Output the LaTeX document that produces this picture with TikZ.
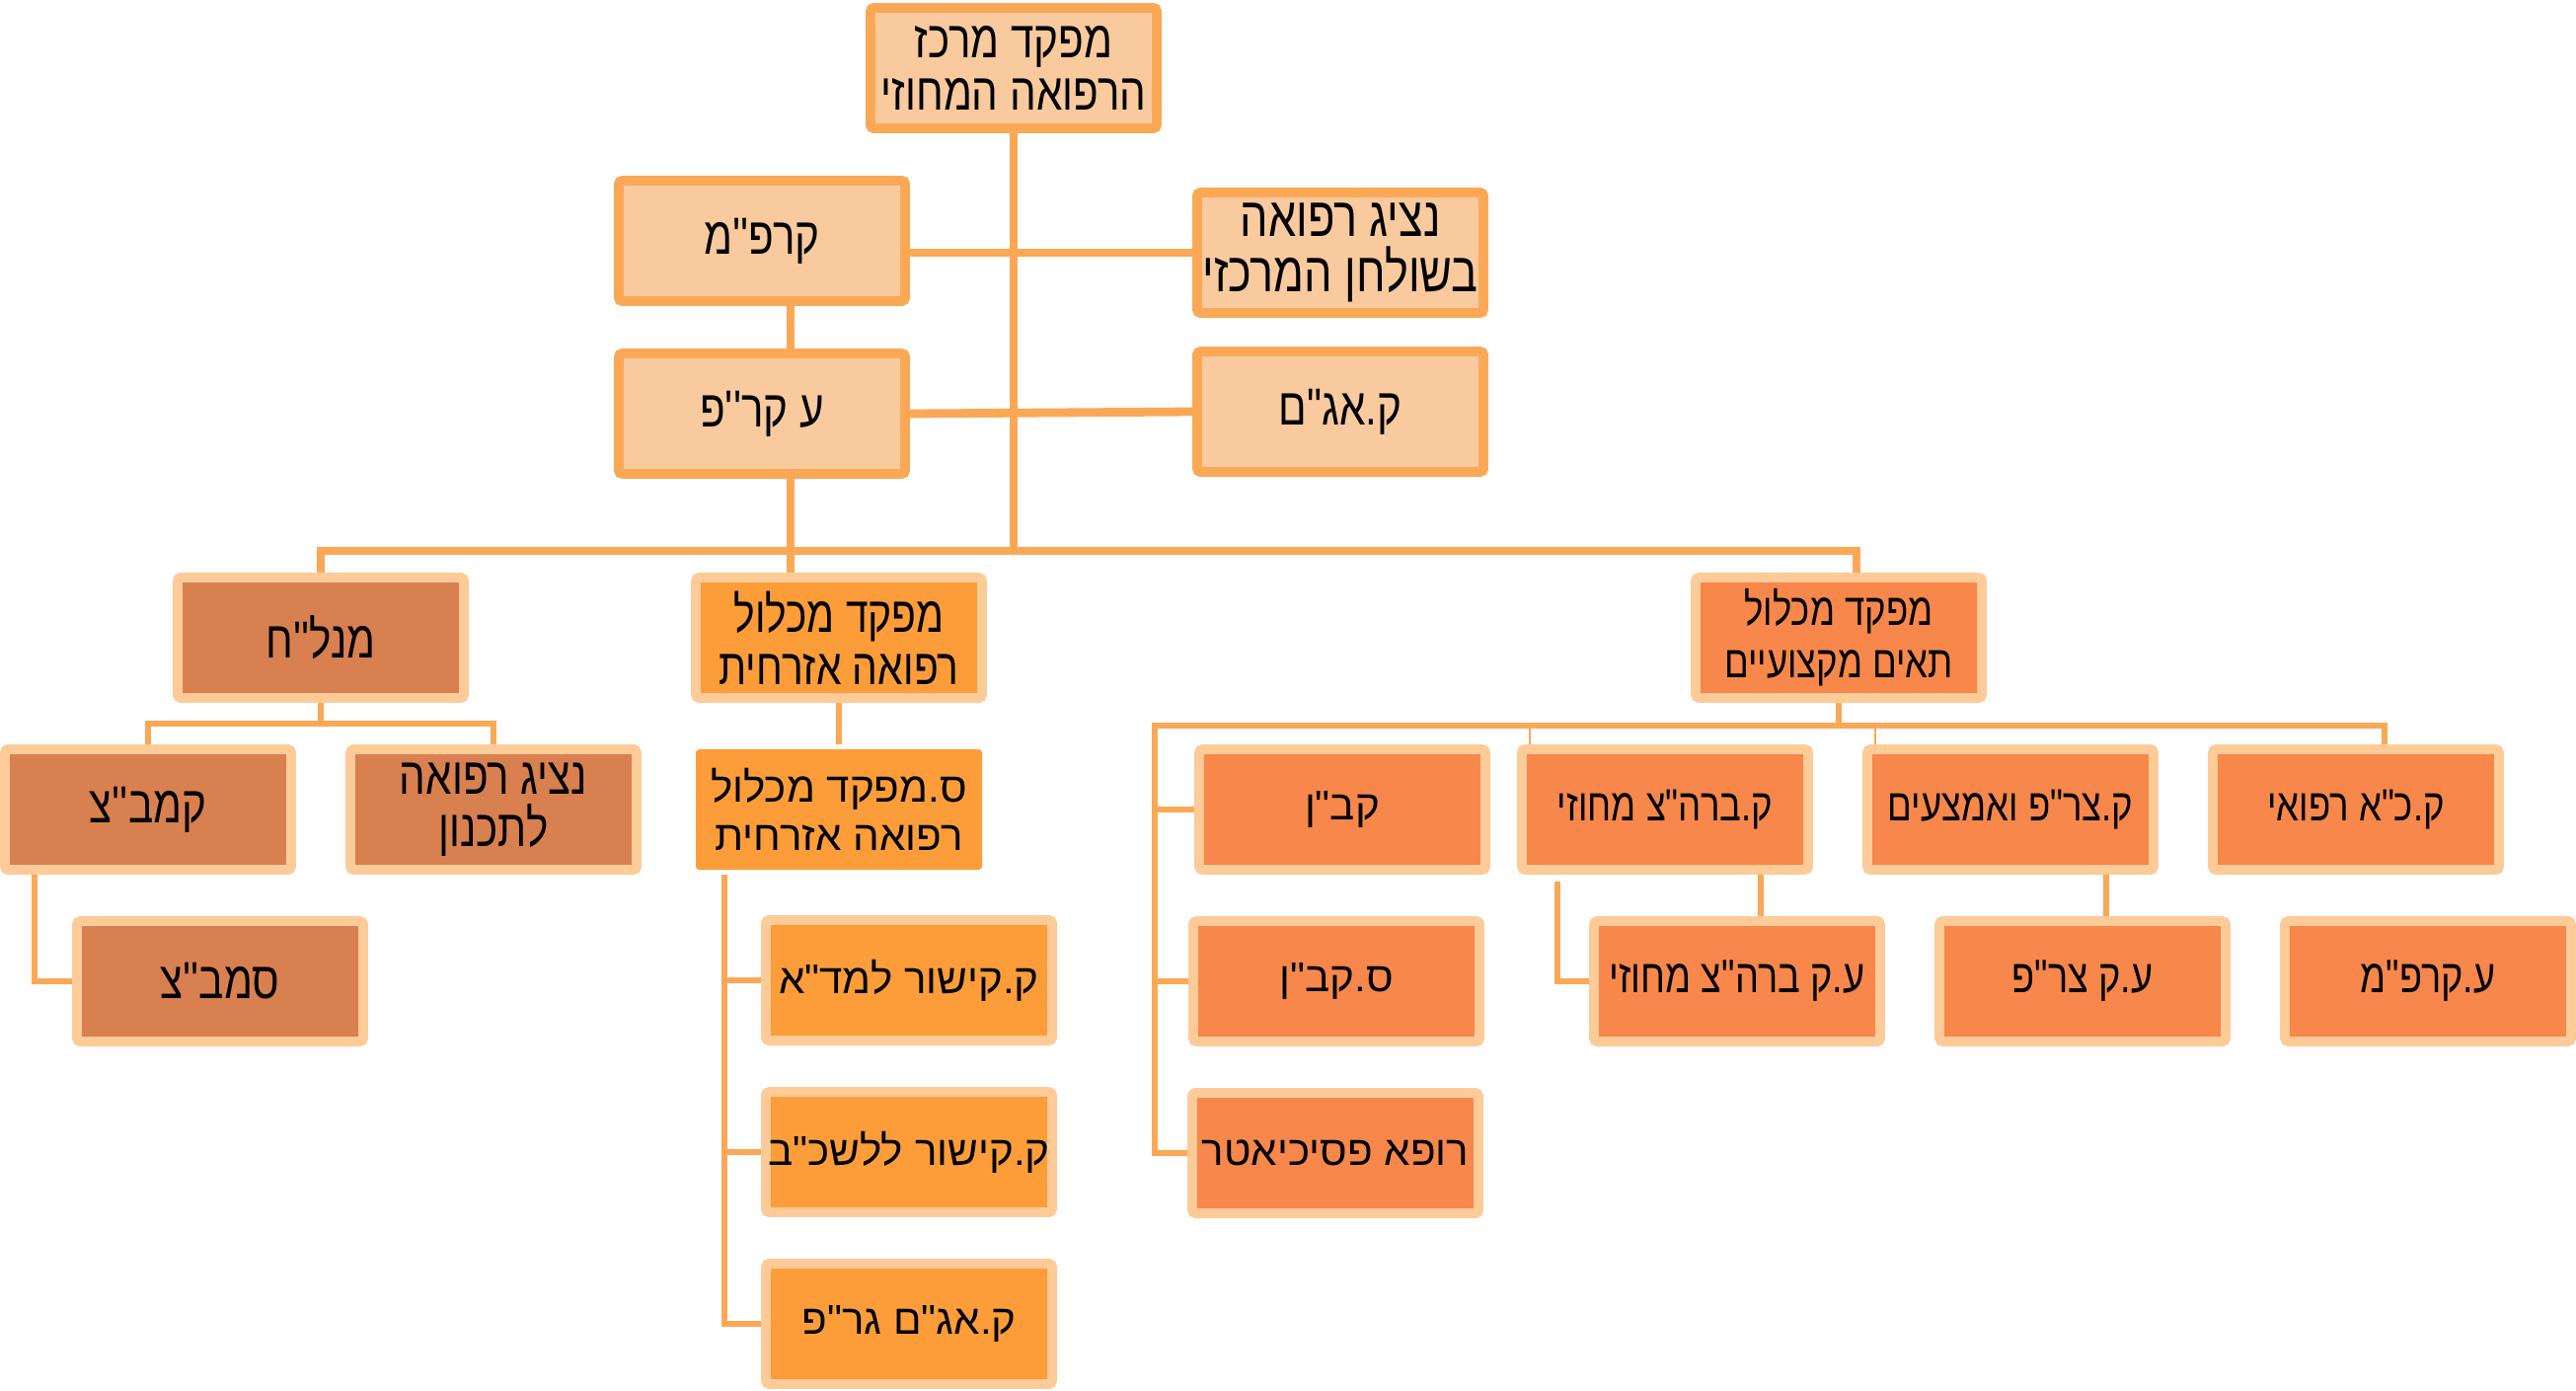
\documentclass[tikz,border=0pt]{standalone}
\usepackage{fontspec}
\usepackage{tikz}
\usetikzlibrary{backgrounds}
\usepackage{xcolor}
\TeXXeTstate=1
\newfontfamily\hebwide[Script=Hebrew,Ligatures=TeXOff]{Liberation Sans}
\newfontfamily\hebnarrow[Script=Hebrew,Ligatures=TeXOff,FakeStretch=0.8]{Liberation Sans}
\newcommand{\rtl}[1]{\beginR#1\endR}
\definecolor{peachfill}{HTML}{F8CA9E}
\definecolor{linkorange}{HTML}{FBA856}
\definecolor{rimpeach}{HTML}{FDCB98}
\definecolor{brownfill}{HTML}{D98050}
\definecolor{civfill}{HTML}{FD9D3A}
\definecolor{proffill}{HTML}{F7874B}
\begin{document}
\begin{tikzpicture}[y=-1cm,line cap=rect,
  unit/.style={minimum width=2.9cm,minimum height=1.22cm,inner sep=0pt,align=center,
    line width=2.8pt,rounded corners=1pt,font=\hebnarrow\fontsize{13}{15}\selectfont},
  headbox/.style={unit,fill=peachfill,draw=linkorange,font=\hebnarrow\fontsize{15}{15}\selectfont},
  brownbox/.style={unit,fill=brownfill,draw=rimpeach,font=\hebnarrow\fontsize{15}{15}\selectfont},
  civbox/.style={unit,fill=civfill,draw=rimpeach},
  profbox/.style={unit,fill=proffill,draw=rimpeach},
  widetext/.style={font=\hebwide\fontsize{12}{14}\selectfont},
  link/.style={draw=linkorange,line width=2.5pt},
  sublink/.style={draw=linkorange,line width=1.9pt},
  hairlink/.style={draw=linkorange,line width=0.7pt}]
\useasboundingbox (0,0) rectangle (26.10,14.08);
% staff
\node[headbox] (top) at (10.27,0.69) {\rtl{מפקד מרכז}\\\rtl{הרפואה המחוזי}};
\node[headbox] (krpm) at (7.72,2.44) {\rtl{קרפ''מ}};
\node[headbox,font=\hebnarrow\fontsize{16}{16}\selectfont] (nz) at (13.58,2.56) {\rtl{נציג רפואה}\\\rtl{בשולחן המרכזי}};
\node[headbox] (ekrp) at (7.72,4.19) {\rtl{ע קר''פ}};
\node[headbox] (agam) at (13.58,4.17) {\rtl{ק.אג"ם}};
% branches
\node[brownbox] (mnl) at (3.25,6.46) {\rtl{מנל''ח}};
\node[civbox,font=\hebnarrow\fontsize{14.5}{15}\selectfont] (civ) at (8.50,6.46) {\rtl{מפקד מכלול}\\\rtl{רפואה אזרחית}};
\node[profbox] (prof) at (18.63,6.46) {\rtl{מפקד מכלול}\\\rtl{תאים מקצועיים}};
\node[brownbox] (kmbz) at (1.50,8.20) {\rtl{קמב''צ}};
\node[brownbox] (tichnun) at (5.00,8.20) {\rtl{נציג רפואה}\\\rtl{לתכנון}};
\node[brownbox] (smbz) at (2.23,9.94) {\rtl{סמב''צ}};
\node[civbox,widetext,draw=none] (deputy) at (8.50,8.20) {\rtl{ס.מפקד מכלול}\\\rtl{רפואה אזרחית}};
\node[civbox,widetext] (mda) at (9.21,9.93) {\rtl{ק.קישור למד"א}};
\node[civbox,widetext] (lshkab) at (9.21,11.67) {\rtl{ק.קישור ללשכ"ב}};
\node[civbox,widetext] (agamgrp) at (9.21,13.41) {\rtl{ק.אג"ם גר"פ}};
\node[profbox,widetext] (kaban) at (13.60,8.20) {\rtl{קב"ן}};
\node[profbox] (brhz) at (16.87,8.20) {\rtl{ק.ברה"צ מחוזי}};
\node[profbox] (zrp) at (20.37,8.20) {\rtl{ק.צר"פ ואמצעים}};
\node[profbox] (ka) at (23.87,8.20) {\rtl{ק.כ"א רפואי}};
\node[profbox,widetext] (skaban) at (13.54,9.94) {\rtl{ס.קב"ן}};
\node[profbox,font=\hebnarrow\fontsize{13.5}{15}\selectfont] (ekbrhz) at (17.60,9.94) {\rtl{ע.ק ברה"צ מחוזי}};
\node[profbox,font=\hebnarrow\fontsize{13.5}{15}\selectfont] (ekzrp) at (21.10,9.94) {\rtl{ע.ק צר"פ}};
\node[profbox,font=\hebnarrow\fontsize{13.5}{15}\selectfont] (ekrpm) at (24.60,9.94) {\rtl{ע.קרפ"מ}};
\node[profbox,widetext] (psych) at (13.53,11.68) {\rtl{רופא פסיכיאטר}};
\coordinate (busl) at (3.25,5.58);
\coordinate (busr) at (18.81,5.58);
\coordinate (spine) at (8.01,5.58);
\coordinate (mnlbus) at (3.25,7.33);
\coordinate (smbzrail) at (0.35,0);
\coordinate (civrail) at (7.34,0);
\coordinate (profrail) at (11.70,7.35);
\coordinate (profend) at (24.16,7.35);
\coordinate (brhzdrop) at (15.50,7.35);
\coordinate (zrpdrop) at (19.00,7.35);
\coordinate (brhzlink) at (17.84,0);
\coordinate (ekrail) at (15.78,8.93);
\coordinate (zrplink) at (21.34,0);
\begin{scope}[on background layer]
\draw[link] (top.south) -- (top.south |- busl);
\draw[link] (nz.west -| krpm.east) -- (nz.west);
\draw[link] (ekrp.east) -- (agam.west);
\draw[link] (krpm.south -| spine) -- (ekrp.north -| spine);
\draw[link] (ekrp.south -| spine) -- (civ.north -| spine);
\draw[link] (mnl.north) -- (busl) -- (busr) -- (prof.north -| busr);
\draw[sublink] (mnl.south) -- (mnlbus);
\draw[sublink] (kmbz.north) |- (mnlbus) -| (tichnun.north);
\draw[sublink] (kmbz.south -| smbzrail) |- (smbz.west);
\draw[sublink] (civ.south) -- (deputy.north);
\draw[sublink] (deputy.south -| civrail) |- (agamgrp.west);
\draw[sublink] (mda.west -| civrail) -- (mda.west);
\draw[sublink] (lshkab.west -| civrail) -- (lshkab.west);
\draw[sublink] (prof.south) -- (prof.south |- profrail);
\draw[sublink] (ka.north -| profend) -- (profend) -- (profrail) |- (psych.west);
\draw[sublink] (kaban.west -| profrail) -- (kaban.west);
\draw[sublink] (skaban.west -| profrail) -- (skaban.west);
\draw[hairlink] (brhzdrop) -- (brhz.north -| brhzdrop);
\draw[hairlink] (zrpdrop) -- (zrp.north -| zrpdrop);
\draw[sublink] (brhz.south -| brhzlink) -- (ekbrhz.north -| brhzlink);
\draw[sublink] (ekrail) |- (ekbrhz.west);
\draw[sublink] (zrp.south -| zrplink) -- (ekzrp.north -| zrplink);
\end{scope}
\end{tikzpicture}
\end{document}
